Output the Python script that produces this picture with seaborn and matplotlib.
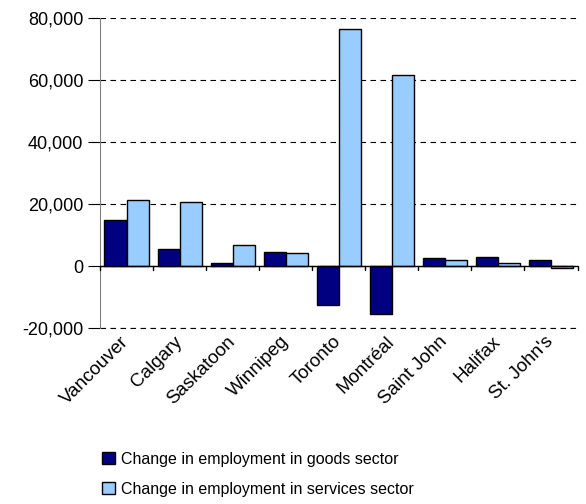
import matplotlib
matplotlib.use('Agg')
import matplotlib.pyplot as plt
import matplotlib.ticker as mticker
import matplotlib.transforms as mtransforms
import pandas as pd
import seaborn as sns

# Datos
cities = ['Vancouver', 'Calgary', 'Saskatoon', 'Winnipeg', 'Toronto',
          'Montréal', 'Saint John', 'Halifax', "St. John's"]
goods = [14800, 5500, 1000, 4500, -12600, -15500, 2500, 2900, 1900]
services = [21300, 20600, 6800, 4300, 76600, 61600, 1900, 1000, -700]
series = ['Change in employment in goods sector',
          'Change in employment in services sector']

df = pd.DataFrame({'City': cities * 2,
                   'Value': goods + services,
                   'Series': [series[0]] * len(cities) + [series[1]] * len(cities)})

sns.set_style('white')
plt.rcParams['font.family'] = ['Liberation Sans', 'DejaVu Sans']
plt.rcParams['text.color'] = 'black'
plt.rcParams['xtick.color'] = 'black'
plt.rcParams['ytick.color'] = 'black'

fig = plt.figure(figsize=(5.86, 5.04), dpi=100)
ax = fig.add_axes([0.1706, 0.349, 0.815, 0.615])

sns.barplot(data=df, x='City', y='Value', hue='Series',
            palette=['#000080', '#99CCFF'], saturation=1, width=0.83,
            edgecolor='black', linewidth=1, ax=ax)

ax.set_ylim(-20000, 80000)
ax.set_xlim(-0.5, len(cities) - 0.5)
ax.yaxis.set_major_locator(mticker.MultipleLocator(20000))
ax.yaxis.set_major_formatter(mticker.FuncFormatter(lambda v, p: f'{int(v):,}'))
ax.yaxis.grid(True, color='black', linestyle=(0, (5, 4)), linewidth=0.8)
ax.axhline(-20000, color='black', linestyle=(0, (5, 4)), linewidth=0.8, clip_on=False)
ax.set_axisbelow(True)

for s in ['top', 'right', 'bottom']:
    ax.spines[s].set_visible(False)
ax.spines['left'].set_color('#808080')
ax.axhline(0, color='black', linewidth=1, zorder=3)

ax.tick_params(axis='y', left=True, length=9, color='black', labelsize=13, pad=3)
ax.tick_params(axis='x', bottom=False, labelsize=13.5, pad=0)
ax.set_xticks(range(len(cities)))
ax.set_xticklabels(cities, rotation=45, ha='right', rotation_mode='anchor')
shift = mtransforms.ScaledTranslation(-6 / 100, 0, fig.dpi_scale_trans)
for lbl in ax.get_xticklabels():
    lbl.set_transform(lbl.get_transform() + shift)
# marcas entre categorias en la linea de cero
for k in range(len(cities) + 1):
    ax.plot([k - 0.5, k - 0.5], [-1300, 0], color='black', linewidth=1,
            clip_on=False, zorder=3)

ax.set_xlabel('')
ax.set_ylabel('')
ax.legend(loc='upper left', bbox_to_anchor=(-0.025, -0.352),
          frameon=False, fontsize=11.5, handlelength=0.8, handleheight=0.8,
          handletextpad=0.35, labelspacing=0.95)

fig.savefig('out.png', dpi=100)
